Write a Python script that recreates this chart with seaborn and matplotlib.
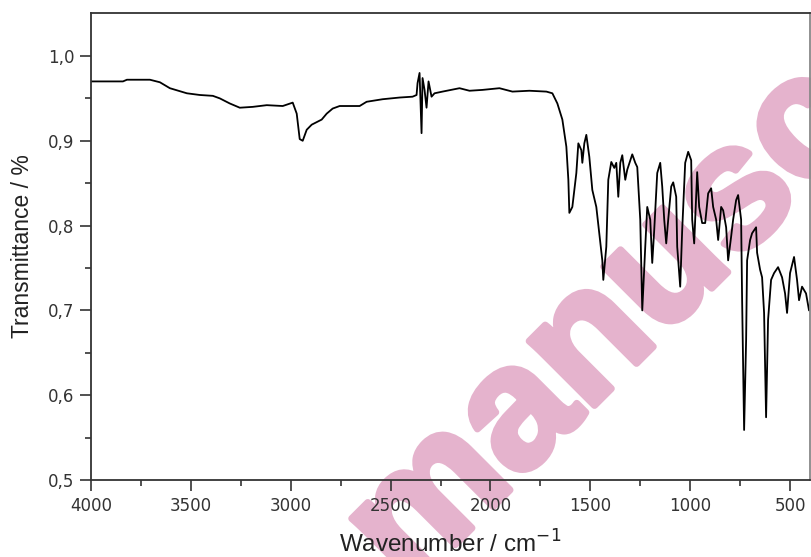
import matplotlib
matplotlib.use("Agg")
import matplotlib.pyplot as plt
import matplotlib.patheffects as pe
from matplotlib.ticker import FixedLocator, FuncFormatter
import seaborn as sns
import pandas as pd

# FTIR spectrum: wavenumber (cm^-1) and transmittance
wavenumber = [
    4000, 3840, 3820, 3740, 3705, 3655, 3605, 3520, 3455, 3390, 3355, 3305,
    3255, 3190, 3120, 3040, 2990, 2970, 2955, 2940, 2920, 2895, 2870, 2845,
    2820, 2790, 2755, 2655, 2620, 2540, 2455, 2390, 2380, 2370, 2365, 2355,
    2345, 2340, 2330, 2320, 2310, 2295, 2280, 2240, 2155, 2105, 2040, 1955,
    1890, 1805, 1720, 1690, 1665, 1640, 1620, 1610, 1605, 1590, 1570, 1560,
    1545, 1540, 1530, 1520, 1505, 1490, 1470, 1455, 1440, 1435, 1420, 1410,
    1395, 1380, 1370, 1360, 1350, 1340, 1325, 1315, 1290, 1275, 1265, 1250,
    1240, 1225, 1215, 1200, 1190, 1180, 1165, 1150, 1140, 1130, 1120, 1110,
    1095, 1085, 1070, 1065, 1050, 1040, 1025, 1010, 995, 990, 980, 970,
    965, 955, 940, 925, 910, 895, 885, 870, 860, 845, 835, 820,
    810, 795, 785, 770, 760, 745, 740, 730, 720, 715, 700, 690,
    670, 665, 650, 640, 630, 620, 610, 595, 580, 560, 540, 525,
    515, 500, 480, 465, 455, 440, 420, 405,
]
transmittance = [
    0.970, 0.970, 0.972, 0.972, 0.972, 0.969, 0.962, 0.956, 0.954, 0.953, 0.950, 0.944,
    0.939, 0.940, 0.942, 0.941, 0.945, 0.932, 0.902, 0.900, 0.913, 0.919, 0.922, 0.925,
    0.932, 0.938, 0.941, 0.941, 0.946, 0.949, 0.951, 0.952, 0.953, 0.954, 0.968, 0.980,
    0.909, 0.974, 0.960, 0.939, 0.970, 0.952, 0.956, 0.958, 0.962, 0.959, 0.960, 0.962,
    0.958, 0.959, 0.958, 0.956, 0.944, 0.925, 0.893, 0.854, 0.815, 0.822, 0.862, 0.897,
    0.889, 0.874, 0.897, 0.907, 0.881, 0.842, 0.822, 0.791, 0.759, 0.736, 0.775, 0.854,
    0.875, 0.868, 0.874, 0.834, 0.874, 0.883, 0.854, 0.866, 0.884, 0.874, 0.869, 0.807,
    0.700, 0.775, 0.822, 0.807, 0.756, 0.795, 0.862, 0.874, 0.846, 0.807, 0.779, 0.807,
    0.846, 0.851, 0.834, 0.775, 0.728, 0.795, 0.874, 0.887, 0.877, 0.807, 0.779, 0.834,
    0.863, 0.822, 0.803, 0.803, 0.838, 0.844, 0.822, 0.807, 0.783, 0.822, 0.818, 0.798,
    0.759, 0.787, 0.807, 0.830, 0.836, 0.807, 0.712, 0.559, 0.665, 0.759, 0.783, 0.791,
    0.798, 0.768, 0.748, 0.739, 0.697, 0.574, 0.689, 0.736, 0.744, 0.751, 0.739, 0.720,
    0.697, 0.744, 0.763, 0.736, 0.712, 0.728, 0.720, 0.700,
]

x_ticks = [4000, 3500, 3000, 2500, 2000, 1500, 1000, 500]
x_minor = [3750, 3250, 2750, 2250, 1750, 1250, 750]
y_ticks = [0.5, 0.6, 0.7, 0.8, 0.9, 1.0]
y_minor = [0.55, 0.65, 0.75, 0.85, 0.95]

spectrum = pd.DataFrame({"wavenumber": wavenumber, "transmittance": transmittance})

sns.set_theme(style="ticks")
plt.rcParams["font.family"] = ["Liberation Sans", "DejaVu Sans"]

fig = plt.figure(figsize=(8.11, 5.57), dpi=100)
ax = fig.add_axes([0.1122, 0.1382, 0.8866, 0.8385])
ax.patch.set_alpha(0.0)

sns.lineplot(data=spectrum, x="wavenumber", y="transmittance", ax=ax,
             color="black", linewidth=1.3, sort=False, estimator=None)

ax.set_xlim(4000, 400)
ax.set_ylim(0.5, 1.0507)
ax.set_xticks(x_ticks)
ax.set_yticks(y_ticks)
ax.xaxis.set_minor_locator(FixedLocator(x_minor))
ax.yaxis.set_minor_locator(FixedLocator(y_minor))
ax.yaxis.set_major_formatter(FuncFormatter(lambda v, _: f"{v:.1f}".replace(".", ",")))

ax.tick_params(which="major", direction="out", length=8, width=1.2,
               color="#333333", labelsize=12, labelcolor="#333333", pad=4)
ax.tick_params(which="minor", direction="out", length=4, width=1.2, color="#333333")
for lbl in ax.get_xticklabels() + ax.get_yticklabels():
    lbl.set_family("DejaVu Sans")
for side in ["left", "bottom", "top", "right"]:
    ax.spines[side].set_linewidth(1.3)
    ax.spines[side].set_color("#333333")
ax.spines["right"].set_color("#888888")

ax.set_xlabel("Wavenumber / cm$^{-1}$", fontsize=17.5, color="#222222", labelpad=11)
ax.set_ylabel("Transmittance / %", fontsize=16.5, color="#222222", labelpad=10)

# diagonal watermark, painted beneath the axes content
pink = "#E5B3CD"
fig.text(0.5037, -0.0619, "manuscript", rotation=45, rotation_mode="anchor",
         ha="left", va="baseline", fontsize=125, fontweight="bold",
         family="Liberation Sans", color=pink, zorder=-1,
         path_effects=[pe.withStroke(linewidth=5, foreground=pink)])

fig.savefig("out.png", dpi=100)
